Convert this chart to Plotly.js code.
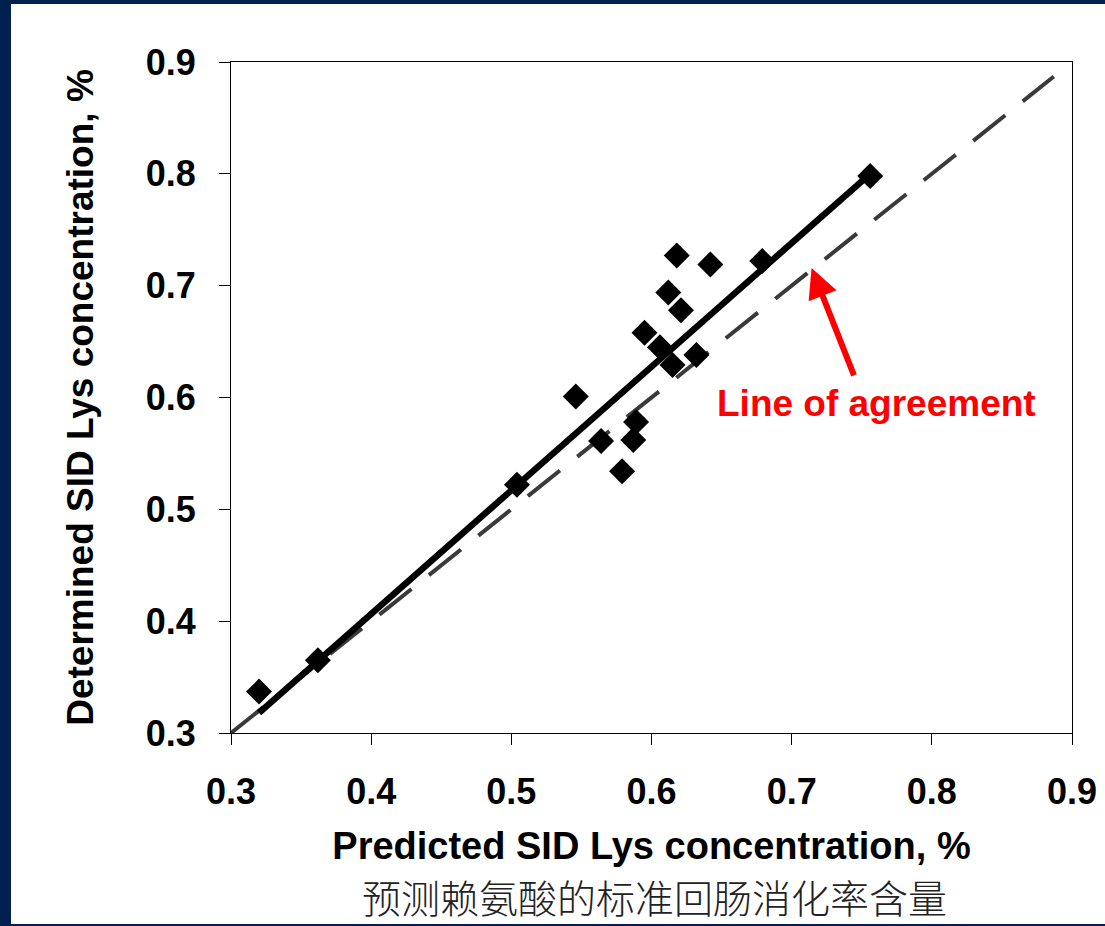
<!DOCTYPE html>
<html>
<head>
<meta charset="utf-8">
<script src="https://cdn.plot.ly/plotly-3.0.1.min.js"></script>
<style>
  html, body { margin: 0; padding: 0; background: #00214f; width: 1105px; height: 926px; overflow: hidden; }
  #chart { position: absolute; left: 11px; top: 4px; width: 1094px; height: 920px; background: #ffffff; }
</style>
</head>
<body>
<div id="chart"></div>
<script>
// Observed data (predicted vs determined SID Lys, %)
const predicted  = [0.320, 0.362, 0.504, 0.546, 0.564, 0.579, 0.587, 0.589, 0.595, 0.606, 0.612, 0.615, 0.618, 0.621, 0.632, 0.642, 0.679, 0.756];
const determined = [0.337, 0.365, 0.522, 0.601, 0.561, 0.534, 0.562, 0.578, 0.658, 0.645, 0.694, 0.629, 0.727, 0.678, 0.638, 0.719, 0.722, 0.798];

// Fitted regression line endpoints
const fitX = [0.320, 0.756];
const fitY = [0.318, 0.800];

// Line of agreement (y = x)
const agreeX = [0.300, 0.887];
const agreeY = [0.300, 0.887];

const tickVals = [0.3, 0.4, 0.5, 0.6, 0.7, 0.8, 0.9];
const tickText = ['0.3', '0.4', '0.5', '0.6', '0.7', '0.8', '0.9'];

const xTitle = 'Predicted SID Lys concentration, %';
const yTitle = 'Determined SID Lys concentration, %';
const cnTitle = '预测赖氨酸的标准回肠消化率含量';
const agreeLabel = 'Line of agreement';

const fontFam = 'Liberation Sans, Arial, Helvetica, sans-serif';

const traces = [
  { x: agreeX, y: agreeY, mode: 'lines', type: 'scatter',
    line: { color: '#3a3a3a', width: 4, dash: '41px,22.3px' }, hoverinfo: 'skip' },
  { x: fitX, y: fitY, mode: 'lines', type: 'scatter',
    line: { color: '#000000', width: 6.5 }, hoverinfo: 'skip' },
  { x: predicted, y: determined, mode: 'markers', type: 'scatter',
    marker: { symbol: 'diamond', size: 20, color: '#000000', line: { width: 0 } }, cliponaxis: false }
];

const axisCommon = {
  range: [0.3, 0.9],
  tickvals: tickVals,
  ticktext: tickText,
  showgrid: false,
  zeroline: false,
  showline: true,
  linecolor: '#000000',
  linewidth: 1,
  mirror: true,
  ticks: 'outside',
  ticklen: 11,
  tickwidth: 1,
  tickcolor: '#000000',
  tickfont: { family: fontFam, size: 36, weight: 'bold', color: '#000000' }
};

const layout = {
  width: 1094,
  height: 920,
  margin: { l: 220, r: 33, t: 58, b: 191 },
  paper_bgcolor: '#ffffff',
  plot_bgcolor: '#ffffff',
  showlegend: false,
  xaxis: Object.assign({}, axisCommon, {
    ticklabelstandoff: 16,
    title: { text: xTitle, font: { family: fontFam, size: 38, weight: 'bold', color: '#000000' }, standoff: 21 }
  }),
  yaxis: Object.assign({}, axisCommon, {
    ticklabelstandoff: 16,
    title: { text: yTitle, font: { family: fontFam, size: 37, weight: 'bold', color: '#000000' }, standoff: 40 }
  }),
  annotations: [
    { x: 0.7142, y: 0.7159, xref: 'x', yref: 'y', ax: 43, ay: 109, axref: 'pixel', ayref: 'pixel',
      text: '', showarrow: true, arrowhead: 2, arrowsize: 1, arrowwidth: 6, arrowcolor: '#ff0000' },
    { x: 0.7608, y: 0.5943, xref: 'x', yref: 'y', text: agreeLabel, showarrow: false,
      font: { family: fontFam, size: 37, weight: 'bold', color: '#ff0000' }, xanchor: 'center', yanchor: 'middle' },
    { x: 0.504, xref: 'paper', y: -0.2436, yref: 'paper', text: cnTitle, showarrow: false,
      font: { family: 'Noto Sans CJK SC, sans-serif', size: 39, weight: 300, color: '#222222' }, xanchor: 'center', yanchor: 'middle' }
  ]
};

Plotly.newPlot('chart', traces, layout, { displayModeBar: false, staticPlot: true });
</script>
</body>
</html>
